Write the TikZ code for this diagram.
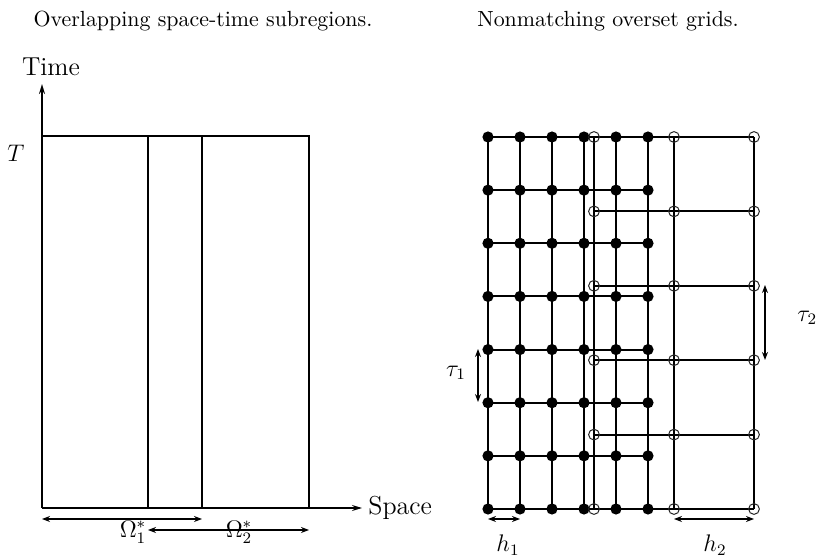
\documentclass[tikz,border=0pt]{standalone}
\usetikzlibrary{arrows.meta}
\begin{document}
\begin{tikzpicture}[x=0.5pt,y=-0.5pt,font=\fontsize{10.95}{13}\selectfont,
  thickln/.style={line width=1.1pt},
  thinln/.style={line width=0.7pt},
  dim/.style={line width=0.9pt,{Stealth[length=4pt,width=3pt]}-{Stealth[length=4pt,width=3pt]}},
  fdot/.style={circle,fill=black,inner sep=0pt,minimum size=5.6pt},
  hdot/.style={circle,draw=black!85,line width=0.5pt,inner sep=0pt,minimum size=5.4pt},
  lbl/.style={inner sep=1pt},
  axlbl/.style={inner sep=1pt,font=\fontsize{13}{15}\selectfont},
  mlbl/.style={inner sep=1pt,font=\fontsize{12}{14}\selectfont}]
\useasboundingbox (0,0) rectangle (816,556);
% titles
\node[lbl] (t1) at (203,21) {Overlapping space-time subregions.};
\node[lbl] (t2) at (608,21) {Nonmatching overset grids.};
% left panel
\coordinate (o) at (42,508);
\coordinate (ytop) at (42,84);
\coordinate (tl) at (42,136);
\coordinate (tr) at (309,136);
\coordinate (br) at (309,508);
\coordinate (a1) at (148,136);
\coordinate (a2) at (148,508);
\coordinate (b1) at (202,136);
\coordinate (b2) at (202,508);
\coordinate (xend) at (362,508);
\node[axlbl] (time) at (51,67) {Time};
\node[mlbl] (T) at (16,153) {$T$};
\node[axlbl,anchor=west] (space) at (366,508) {Space};
\draw[thickln,-{Stealth[length=5pt,width=3pt]}] (o) -- (ytop);
\draw[thickln] (tl) -- (tr) -- (br);
\draw[line width=1.4pt] (o) -- (br);
\draw[thinln,-{Stealth[length=5pt,width=3pt]}] (br) -- (xend);
\draw[thinln] (a1) -- (a2);
\draw[line width=1.3pt] (b1) -- (b2);
\coordinate (d1a) at (42,519);
\coordinate (d1b) at (202,519);
\coordinate (d2a) at (148,530);
\coordinate (d2b) at (309,530);
\draw[dim,line width=1.2pt] (d1a) -- (d1b);
\draw[dim] (d2a) -- (d2b);
\node[mlbl] (om1) at (133,532) {$\Omega_1^*$};
\node[mlbl] (om2) at (239,532) {$\Omega_2^*$};
% right panel: fine grid
\foreach \i in {0,...,5}{
  \foreach \j in {0,...,7}{
    \coordinate (f-\i-\j) at ({488+32*\i},{137+53.143*\j});
  }
}
\foreach \k in {0,1,2}{
  \foreach \l in {0,...,5}{
    \coordinate (c-\k-\l) at ({594+80*\k},{137+74.4*\l});
  }
}
% fine vertical lines
\foreach \i/\w in {0/0.8,1/1.2,2/1.2,3/0.7,4/0.8,5/1.2}{
  \draw[line width=\w pt] (f-\i-0) -- (f-\i-7);
}
% fine horizontal lines
\foreach \j in {0,...,7}{
  \draw[line width=1pt] (f-0-\j) -- (f-5-\j);
}
% coarse vertical lines
\foreach \k/\w in {0/1.3,1/0.9,2/1.1}{
  \draw[line width=\w pt] (c-\k-0) -- (c-\k-5);
}
% coarse horizontal lines
\foreach \l in {0,...,5}{
  \draw[line width=1pt] (c-0-\l) -- (c-2-\l);
}
% dots
\foreach \i in {0,...,5}{
  \foreach \j in {0,...,7}{
    \node[fdot] (fd-\i-\j) at (f-\i-\j) {};
  }
}
\foreach \k in {0,1,2}{
  \foreach \l in {0,...,5}{
    \node[hdot] (cd-\k-\l) at (c-\k-\l) {};
  }
}
% dimensions
\coordinate (ta) at (478,349);
\coordinate (tb) at (478,402);
\draw[dim] (ta) -- (tb);
\node[mlbl] (tau1) at (456,373) {$\tau_1$};
\coordinate (tc) at (765,285);
\coordinate (td) at (765,360);
\draw[dim] (tc) -- (td);
\node[mlbl,anchor=west] (tau2) at (795,318) {$\tau_2$};
\coordinate (ha) at (488,519);
\coordinate (hb) at (520,519);
\draw[dim] (ha) -- (hb);
\node[mlbl] (h1) at (508,545) {$h_1$};
\coordinate (hc) at (674,519);
\coordinate (hd) at (754,519);
\draw[dim,line width=1.2pt] (hc) -- (hd);
\node[mlbl] (h2) at (715,545) {$h_2$};
\end{tikzpicture}
\end{document}
